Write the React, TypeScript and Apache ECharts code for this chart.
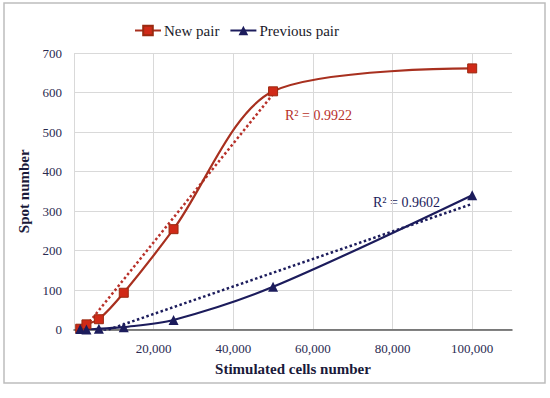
import React, { useEffect, useRef } from "react";
import * as echarts from "echarts";

// Data
const cells = [1562.5, 3125, 6250, 12500, 25000, 50000, 100000];
const newPair = [2, 13, 26, 93, 254, 603, 661];
const previousPair = [1, 0, 2, 6, 24, 108, 340];
// Linear trendline endpoints ([x, y])
const newTrendX = [1562.5, 50000];
const newTrendY = [-10, 596];
const prevTrendX = [1562.5, 100000];
const prevTrendY = [-25, 318];
const newR2 = "R² = 0.9922";
const prevR2 = "R² = 0.9602";
const xTicks = [20000, 40000, 60000, 80000, 100000];

const FONT = "'Liberation Serif', 'DejaVu Serif', serif";
const RED_LINE = "#A8301F";
const RED_MARK = "#D02A18";
const NAVY = "#1C1C5C";

export default function App() {
  const ref = useRef<HTMLDivElement>(null);
  useEffect(() => {
    if (!ref.current) return;
    const chart = echarts.init(ref.current, undefined, { renderer: "svg" });
    const zip = (xs: number[], ys: number[]) => xs.map((x, i) => [x, ys[i]]);
    chart.setOption({
      animation: false,
      textStyle: { fontFamily: FONT },
      grid: { left: 74, right: 38, top: 53, bottom: 68.5, containLabel: false },
      legend: {
        left: 129,
        top: 18,
        itemWidth: 26,
        itemHeight: 12,
        itemGap: 10,
        data: ["New pair", "Previous pair"],
        textStyle: { fontFamily: FONT, fontSize: 15, color: "#1a1a2a", padding: [0, 0, 0, -2] },
      },
      xAxis: {
        type: "value",
        min: 0,
        max: 110000,
        interval: 20000,
        name: "Stimulated cells number",
        nameLocation: "middle",
        nameGap: 32,
        nameTextStyle: { fontFamily: FONT, fontSize: 15, fontWeight: "bold", color: "#1a1a3a" },
        axisLine: { show: true, lineStyle: { color: "#595959", width: 1.5 } },
        axisTick: { show: false },
        axisLabel: {
          margin: 12,
          fontFamily: FONT,
          fontSize: 13,
          color: "#2a2a50",
          formatter: (v: number) => (xTicks.indexOf(v) >= 0 ? v.toLocaleString("en-US") : ""),
        },
        splitLine: { show: true, showMaxLine: false, lineStyle: { color: "#d9d9d9", width: 1 } },
      },
      yAxis: {
        type: "value",
        min: 0,
        max: 700,
        interval: 100,
        name: "Spot number",
        nameLocation: "middle",
        nameGap: 36,
        nameRotate: 90,
        nameTextStyle: { fontFamily: FONT, fontSize: 15, fontWeight: "bold", color: "#1a1a3a" },
        axisLine: { show: false },
        axisTick: { show: false },
        axisLabel: { margin: 12, fontFamily: FONT, fontSize: 13, color: "#2a2a50" },
        splitLine: { show: true, lineStyle: { color: "#d9d9d9", width: 1 } },
      },
      graphic: [
        {
          type: "rect",
          shape: { x: 4, y: 3, width: 541, height: 380 },
          style: { fill: "none", stroke: "#bdbdbd", lineWidth: 1.5 },
          silent: true,
        },
        {
          type: "text",
          x: 285,
          y: 115,
          style: { text: newR2, fill: "#B8312A", font: `14px ${FONT}`, textVerticalAlign: "middle" },
        },
        {
          type: "text",
          x: 373,
          y: 202,
          style: { text: prevR2, fill: NAVY, font: `14px ${FONT}`, textVerticalAlign: "middle" },
        },
      ],
      series: [
        {
          name: "New pair trend",
          type: "line",
          data: zip(newTrendX, newTrendY),
          showSymbol: false,
          symbol: "none",
          lineStyle: { color: "#B8312A", width: 2.5, type: "dotted" },
          clip: true,
          z: 1,
        },
        {
          name: "Previous pair trend",
          type: "line",
          data: zip(prevTrendX, prevTrendY),
          showSymbol: false,
          symbol: "none",
          lineStyle: { color: NAVY, width: 2.5, type: "dotted" },
          clip: true,
          z: 1,
        },
        {
          name: "New pair",
          type: "line",
          data: zip(cells, newPair),
          smooth: 0.3,
          symbol: "rect",
          symbolSize: 9,
          lineStyle: { color: RED_LINE, width: 2.2 },
          itemStyle: { color: RED_MARK, borderColor: "#9a2a10", borderWidth: 1 },
          z: 3,
        },
        {
          name: "Previous pair",
          type: "line",
          data: zip(cells, previousPair),
          smooth: 0.3,
          symbol: "triangle",
          symbolSize: 10,
          lineStyle: { color: NAVY, width: 2.2 },
          itemStyle: { color: NAVY },
          z: 3,
        },
      ],
    });
    return () => chart.dispose();
  }, []);
  return (
    <div
      ref={ref}
      style={{ position: "fixed", left: 0, top: 0, width: 550, height: 398, background: "#fff" }}
    />
  );
}
